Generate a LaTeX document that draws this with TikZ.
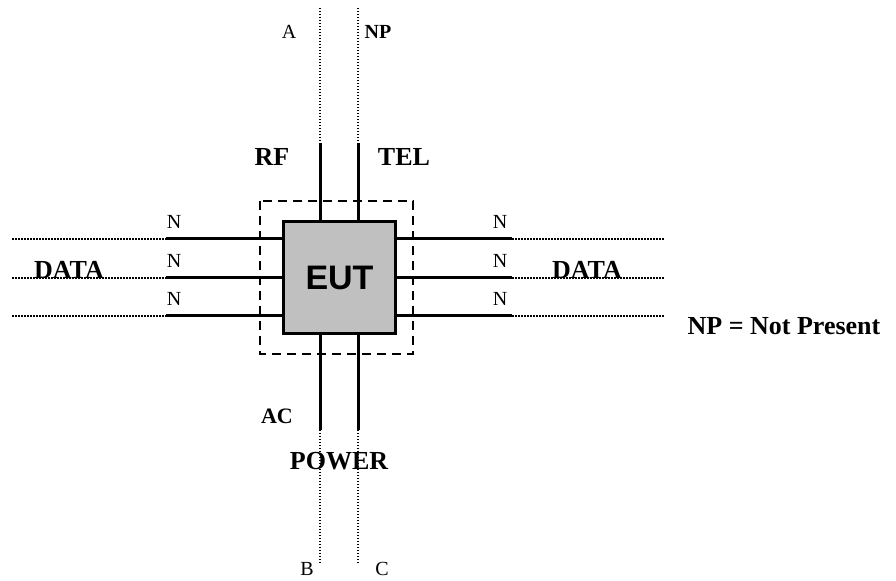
\documentclass[tikz,border=0pt]{standalone}
\usepackage{fontspec}
\setmainfont{Liberation Serif}
\newfontfamily\eutfont{Liberation Sans}
\usetikzlibrary{positioning}
\definecolor{eutgray}{RGB}{192,192,192}

\begin{document}
\begin{tikzpicture}[x=0.5pt, y=-0.5pt,
        cable/.style={line width=1.5pt},
        link/.style={line width=1.1pt, dash pattern=on 0.75pt off 0.75pt},
        frame/.style={line width=1pt, dash pattern=on 4.5pt off 3pt},
        lbl/.style={font=\fontsize{10}{12}\selectfont, inner sep=0pt},
        blbl/.style={font=\fontsize{13}{15}\selectfont\bfseries, inner sep=0pt}]
        \useasboundingbox (0,0) rectangle (896,581);

        % --- equipment under test ---
        \draw[frame] (260,201) rectangle (413,354);
        \node[draw, line width=1.5pt, fill=eutgray, minimum width=56pt, minimum height=56pt,
              font=\eutfont\fontsize{17}{19}\selectfont\bfseries] (eut) at (339.5,277.5) {EUT};

        % --- RF / TEL ports, top ---
        \coordinate (rf) at (320,143);
        \coordinate (tel) at (358,143);
        \coordinate (rfend) at (320,8);
        \coordinate (telend) at (358,8);
        \draw[cable] (rf) -- (rf |- eut.north);
        \draw[cable] (tel) -- (tel |- eut.north);
        \draw[link] (rfend) -- (rf);
        \draw[link] (telend) -- (tel);
        \node[lbl] (la) at (289,32) {A};
        \node[lbl, font=\fontsize{10}{12}\selectfont\bfseries] (lnp) at (378,32) {NP};
        \node[blbl] (lrf) at (272,157) {RF};
        \node[blbl] (ltel) at (404,157) {TEL};

        % --- data ports, left and right ---
        \foreach \y/\n in {239/1,278/2,316/3} {
            \coordinate (dl\n) at (166,\y);
            \coordinate (el\n) at (12,\y);
            \coordinate (dr\n) at (512,\y);
            \coordinate (er\n) at (665,\y);
            \draw[cable] (dl\n) -- (dl\n -| eut.west);
            \draw[cable] (dr\n) -- (dr\n -| eut.east);
            \draw[link] (el\n) -- (dl\n);
            \draw[link] (dr\n) -- (er\n);
            \node[lbl] (nl\n) at (174,\y-17) {N};
            \node[lbl] (nr\n) at (500,\y-17) {N};
        }
        \node[blbl] (ldatal) at (69,270) {DATA};
        \node[blbl] (ldatar) at (587,270) {DATA};

        % --- AC power, bottom ---
        \coordinate (acb) at (320,430);
        \coordinate (acc) at (358,430);
        \coordinate (acbend) at (320,565);
        \coordinate (accend) at (358,565);
        \draw[cable] (eut.south -| acb) -- (acb);
        \draw[cable] (eut.south -| acc) -- (acc);
        \draw[link] (acb) -- (acbend);
        \draw[link] (acc) -- (accend);
        \node[blbl, font=\fontsize{11}{13}\selectfont\bfseries] (lac) at (277,416) {AC};
        \node[blbl] (lpower) at (339,461) {POWER};
        \node[lbl] (lb) at (307,569) {B};
        \node[lbl] (lc) at (382,569) {C};

        % --- legend ---
        \node[blbl] (legend) at (784,326) {NP = Not Present};
\end{tikzpicture}
\end{document}
